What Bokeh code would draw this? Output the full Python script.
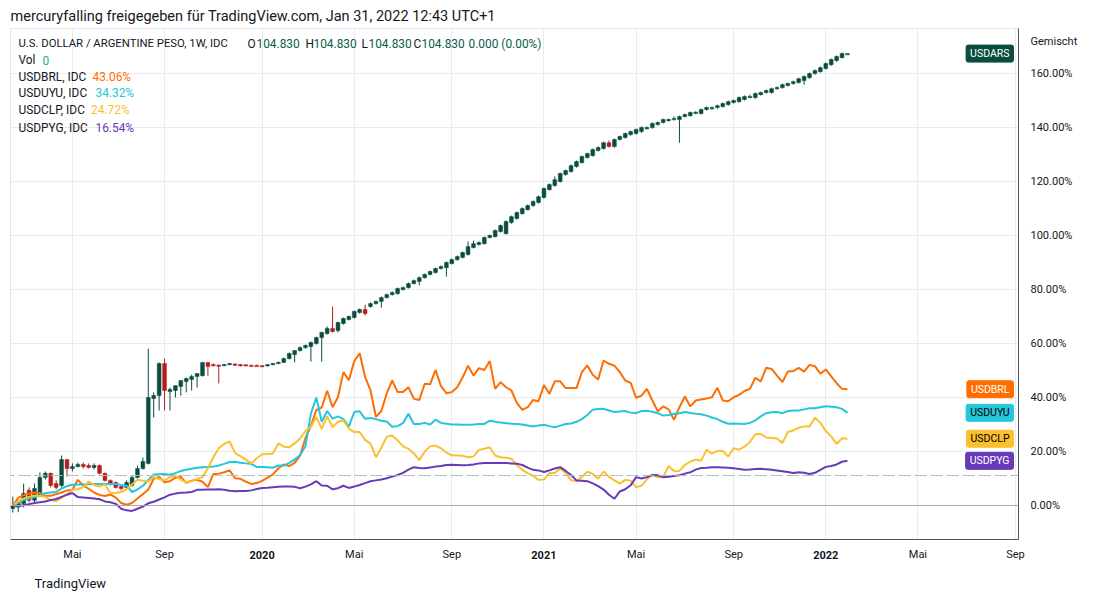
import numpy as np
import pandas as pd
from bokeh.plotting import figure
from bokeh.models import (Range1d, FixedTicker, PrintfTickFormatter, Span, Label, ColumnDataSource, Title,
                          DatetimeAxis)
from bokeh.embed import file_html
from bokeh.resources import INLINE

# ---------------- data (percent change vs. first weekly bar) ----------------
first_week = "2019-02-18"
weeks = pd.date_range(first_week, periods=155, freq="7D")

ars_open = [-1.1, -0.6, 0.7, 5.6, 1.9, 3.7, 10.4, 11.9, 8.1, 7.4,
 17.0, 13.7, 14.4, 15.2, 14.8, 14.1, 14.8, 11.9, 9.3, 8.5,
 7.0, 6.7, 7.4, 10.4, 13.7, 15.6, 39.6, 40.7, 52.6, 42.2,
 42.6, 44.1, 45.9, 46.7, 47.8, 48.1, 53.0, 52.2, 52.0, 51.9,
 52.2, 52.4, 52.2, 52.1, 51.9, 51.9, 51.8, 51.7, 52.2, 52.6,
 53.0, 54.4, 55.9, 57.4, 58.5, 58.9, 60.0, 62.2, 63.7, 65.6,
 64.8, 67.4, 68.9, 69.6, 71.5, 72.6, 73.7, 74.8, 75.6, 77.0,
 78.1, 78.5, 80.0, 80.7, 82.2, 83.0, 84.4, 85.6, 86.3, 87.8,
 88.1, 89.6, 91.1, 91.9, 93.0, 95.6, 96.7, 97.0, 99.3, 99.6,
 101.5, 100.7, 104.8, 106.3, 108.1, 109.6, 111.1, 112.2, 114.1, 117.0,
 118.5, 120.0, 122.6, 123.7, 125.6, 127.0, 128.9, 129.6, 131.5, 132.2,
 134.4, 133.0, 135.6, 136.3, 137.4, 137.8, 138.5, 139.6, 140.0, 141.1,
 141.9, 142.6, 143.2, 143.0, 144.1, 144.4, 145.5, 145.2, 146.7, 147.0,
 147.4, 147.8, 148.5, 149.3, 149.6, 150.4, 151.3, 151.1, 152.2, 153.0,
 153.0, 154.4, 154.8, 155.6, 156.3, 156.7, 157.4, 158.5, 160.0, 160.7,
 161.9, 163.3, 164.8, 165.9, 167.4]

ars_high = [3.3, 1.9, 8.1, 6.7, 8.1, 12.2, 12.6, 12.2, 9.3, 18.5,
 17.0, 15.6, 15.9, 15.9, 15.6, 15.6, 15.2, 12.2, 9.6, 8.9,
 7.4, 9.3, 11.1, 14.8, 17.8, 58.1, 41.9, 53.0, 54.4, 43.7,
 44.4, 46.3, 47.4, 48.5, 48.9, 53.0, 53.0, 52.6, 52.2, 52.4,
 52.8, 52.6, 52.4, 52.2, 52.2, 52.2, 52.0, 52.4, 52.8, 53.3,
 54.8, 56.7, 57.4, 58.9, 59.6, 60.7, 62.6, 64.4, 66.3, 73.7,
 68.1, 69.6, 70.4, 72.2, 73.0, 74.4, 75.2, 75.9, 77.4, 78.5,
 79.3, 80.7, 81.1, 82.6, 83.7, 84.8, 85.9, 87.0, 88.1, 88.9,
 90.4, 91.5, 92.6, 94.1, 97.8, 98.1, 97.8, 99.6, 100.4, 102.2,
 104.1, 105.6, 107.4, 108.9, 110.4, 111.5, 113.0, 114.8, 117.8, 119.3,
 121.9, 123.3, 124.4, 126.3, 127.8, 129.6, 130.7, 132.2, 133.0, 134.8,
 135.2, 135.9, 137.0, 138.1, 138.9, 139.6, 140.4, 140.4, 141.9, 142.2,
 143.3, 143.3, 144.1, 144.4, 145.2, 145.9, 146.0, 147.0, 147.8, 147.8,
 148.5, 149.3, 150.0, 150.4, 151.5, 151.9, 152.2, 153.0, 153.3, 154.1,
 154.8, 155.2, 156.3, 156.7, 157.4, 158.5, 159.3, 160.4, 161.5, 162.6,
 164.1, 165.6, 166.7, 167.8, 167.4]

ars_low = [-2.6, -2.5, -0.7, 1.1, 0.7, 3.0, 9.6, 6.7, 5.9, 6.7,
 10.7, 12.6, 14.1, 13.7, 13.7, 13.3, 11.5, 8.9, 7.4, 6.3,
 5.6, 5.9, 7.0, 10.0, 13.3, 15.2, 32.6, 35.2, 35.2, 35.2,
 40.0, 40.7, 41.9, 42.6, 43.7, 47.8, 48.1, 51.5, 45.2, 51.7,
 52.0, 51.7, 51.5, 51.7, 51.5, 51.7, 51.3, 51.5, 52.0, 52.4,
 52.8, 54.1, 53.0, 57.0, 58.1, 53.3, 59.6, 53.3, 63.3, 64.1,
 64.1, 67.0, 68.5, 69.3, 71.1, 70.4, 73.3, 74.4, 73.3, 76.7,
 77.8, 78.1, 79.6, 80.4, 81.9, 81.5, 84.1, 85.2, 85.9, 87.4,
 84.8, 89.3, 90.7, 91.5, 92.6, 95.2, 96.3, 96.7, 98.9, 99.3,
 101.1, 100.4, 104.4, 105.9, 107.8, 109.3, 110.7, 111.9, 113.7, 116.7,
 118.1, 119.6, 122.2, 123.3, 125.2, 126.7, 128.5, 129.3, 131.1, 131.9,
 132.6, 132.6, 135.2, 135.9, 137.0, 137.4, 138.1, 139.3, 139.6, 140.7,
 141.5, 142.2, 142.6, 134.4, 143.7, 144.1, 145.0, 144.8, 146.3, 146.7,
 147.0, 147.4, 148.1, 148.9, 149.3, 150.0, 151.1, 150.7, 151.9, 152.6,
 152.6, 154.1, 154.4, 155.2, 155.9, 156.3, 155.9, 158.1, 159.6, 160.4,
 161.5, 162.9, 164.4, 165.6, 167.4]

ars_close = [0.0, 1.2, 4.4, 1.9, 6.3, 10.4, 11.9, 7.4, 6.7, 17.0,
 13.7, 14.4, 15.2, 14.4, 14.1, 14.8, 11.9, 9.3, 8.1, 6.7,
 6.3, 8.5, 10.4, 13.7, 16.3, 40.0, 40.7, 52.6, 42.6, 43.0,
 44.4, 46.3, 47.0, 47.8, 48.9, 53.0, 51.5, 51.9, 51.9, 52.2,
 52.6, 52.2, 52.0, 52.0, 51.7, 51.8, 51.7, 52.2, 52.6, 53.0,
 54.4, 56.3, 57.4, 58.5, 59.3, 60.4, 62.2, 64.1, 65.6, 64.4,
 67.8, 69.3, 70.0, 71.9, 72.6, 71.1, 74.8, 75.6, 77.0, 78.1,
 78.9, 80.4, 80.7, 82.2, 83.3, 84.4, 85.6, 86.7, 87.8, 88.5,
 90.0, 91.1, 92.2, 93.7, 95.9, 97.0, 97.4, 99.3, 100.0, 101.9,
 103.7, 105.2, 107.0, 108.5, 110.0, 111.1, 112.6, 114.4, 117.4, 118.9,
 120.7, 123.0, 124.1, 125.9, 127.4, 129.3, 130.4, 131.9, 132.6, 134.4,
 133.0, 135.6, 136.7, 137.8, 138.5, 139.3, 140.0, 140.0, 141.5, 141.9,
 143.0, 143.0, 143.4, 144.1, 144.8, 145.6, 145.7, 146.7, 147.4, 147.4,
 148.1, 148.9, 149.6, 150.0, 151.1, 151.5, 151.5, 152.6, 153.0, 153.7,
 154.4, 154.8, 155.9, 156.3, 157.0, 158.1, 158.9, 160.0, 161.1, 162.2,
 163.7, 165.2, 166.3, 167.4, 167.4]

brl = [0.0, 2.8, 3.8, 4.4, 4.8, 4.6, 3.6, 3.6, 4.2, 4.8,
 5.6, 5.8, 9.5, 7.4, 6.2, 4.8, 3.9, 3.5, 4.1, 2.9,
 0.9, 0.3, 0.9, 2.6, 4.2, 5.9, 9.9, 10.6, 8.6, 9.0,
 10.3, 10.6, 8.4, 9.2, 9.5, 8.8, 6.8, 11.7, 11.8, 12.3,
 13.0, 10.1, 9.9, 8.8, 8.0, 8.3, 9.1, 10.3, 11.5, 13.8,
 15.2, 14.6, 15.8, 18.5, 25.0, 29.5, 35.3, 36.3, 42.5, 36.4,
 40.2, 49.4, 46.4, 53.5, 56.4, 47.6, 42.6, 32.8, 35.0, 41.5,
 46.3, 42.0, 42.0, 43.8, 39.5, 39.1, 45.1, 44.9, 50.2, 44.2,
 41.6, 42.0, 43.8, 47.5, 51.8, 48.1, 50.9, 50.2, 53.5, 43.2,
 45.7, 43.8, 42.6, 38.0, 35.4, 36.4, 39.1, 38.6, 44.6, 41.4,
 46.0, 46.0, 43.5, 43.5, 43.5, 49.4, 51.9, 48.4, 46.7, 53.7,
 52.5, 51.8, 49.4, 46.3, 45.4, 39.9, 40.7, 43.2, 38.9, 34.9,
 36.7, 35.6, 31.7, 36.4, 40.4, 36.7, 38.9, 39.3, 39.6, 40.1,
 43.6, 38.9, 38.6, 40.1, 41.0, 42.4, 43.2, 47.3, 46.0, 51.0,
 50.6, 48.1, 45.7, 49.6, 49.8, 51.0, 49.6, 52.1, 51.6, 48.8,
 50.4, 47.8, 45.3, 43.2, 43.06]

uyu = [0.0, 1.0, 2.0, 2.6, 3.1, 3.8, 4.6, 4.8, 5.0, 6.3,
 7.2, 7.7, 7.8, 7.8, 7.9, 8.0, 8.0, 8.0, 8.0, 8.0,
 7.6, 7.3, 5.0, 6.0, 7.3, 9.5, 11.5, 11.6, 11.7, 11.4,
 12.0, 12.8, 13.2, 13.6, 14.0, 14.2, 14.3, 14.4, 14.8, 15.4,
 16.1, 16.2, 15.8, 15.6, 15.4, 14.3, 14.3, 14.2, 14.0, 14.8,
 14.8, 15.8, 17.0, 18.6, 22.0, 34.0, 40.0, 31.0, 35.0, 32.2,
 33.0, 32.0, 29.2, 34.6, 34.9, 32.1, 32.4, 32.0, 31.4, 31.1,
 29.2, 29.4, 30.5, 34.0, 30.2, 30.2, 30.6, 30.0, 31.8, 30.6,
 30.3, 30.0, 30.0, 29.9, 29.9, 30.0, 30.2, 30.2, 31.4, 31.0,
 30.7, 30.5, 30.3, 30.2, 30.0, 29.6, 29.3, 29.6, 29.9, 29.4,
 29.0, 29.6, 30.2, 30.4, 31.0, 32.0, 33.5, 35.5, 35.7, 35.8,
 35.2, 34.6, 34.8, 35.0, 34.4, 34.2, 35.0, 35.1, 34.7, 34.2,
 33.3, 33.5, 33.9, 34.2, 34.6, 34.3, 34.0, 33.8, 33.3, 32.6,
 32.0, 31.0, 30.3, 30.4, 30.3, 30.2, 30.6, 31.5, 33.0, 34.2,
 34.5, 34.6, 34.2, 35.0, 35.2, 35.2, 35.6, 36.0, 36.0, 36.4,
 36.8, 36.6, 36.4, 35.8, 34.32]

clp = [0.0, 1.6, 2.6, 3.2, 3.7, 3.5, 3.2, 2.0, 1.6, 2.8,
 4.2, 5.8, 6.0, 6.8, 8.9, 7.6, 7.0, 7.8, 4.6, 4.6,
 5.0, 6.0, 7.8, 9.5, 9.2, 9.0, 10.5, 9.8, 9.3, 10.5,
 11.1, 9.5, 8.7, 9.0, 9.8, 10.5, 13.8, 17.9, 21.2, 22.8,
 23.7, 19.5, 18.3, 17.0, 15.6, 17.5, 19.0, 19.1, 19.3, 23.0,
 21.8, 21.6, 23.0, 24.8, 27.6, 29.2, 32.8, 28.4, 33.0, 29.1,
 31.0, 31.5, 28.5, 27.2, 27.2, 24.3, 22.9, 17.9, 21.4, 25.5,
 25.9, 24.1, 21.9, 21.0, 19.3, 16.8, 20.0, 21.9, 22.2, 21.2,
 19.6, 18.6, 18.5, 18.4, 17.9, 18.1, 20.6, 21.0, 21.6, 18.5,
 17.9, 17.7, 17.3, 14.9, 13.2, 12.0, 11.0, 9.5, 9.6, 12.0,
 12.0, 13.7, 12.0, 9.4, 9.0, 10.6, 12.5, 11.7, 9.9, 12.6,
 10.6, 9.3, 8.1, 9.5, 9.2, 6.8, 7.3, 9.7, 11.4, 10.5,
 10.5, 14.6, 12.7, 12.8, 15.0, 16.3, 17.0, 16.6, 20.6, 19.2,
 20.2, 20.2, 18.1, 21.2, 20.7, 21.8, 23.5, 26.4, 26.5, 25.2,
 25.0, 24.8, 23.2, 27.2, 27.8, 28.8, 29.3, 29.3, 32.5, 30.6,
 27.6, 25.6, 22.8, 24.9, 24.72]

pyg = [0.0, -0.3, 0.2, 0.5, 0.9, 1.2, 1.5, 2.0, 2.4, 3.2,
 4.0, 4.6, 3.1, 3.0, 2.8, 2.6, 2.3, 1.5, 1.2, 0.6,
 -1.2, -1.8, -2.0, -1.2, -0.4, 0.8, 1.4, 2.2, 3.0, 4.0,
 4.4, 4.7, 4.8, 5.0, 5.8, 5.8, 5.9, 5.9, 6.0, 5.8,
 5.5, 5.3, 5.4, 5.4, 5.6, 6.1, 6.5, 6.6, 6.8, 6.9,
 7.0, 7.0, 6.9, 6.4, 7.0, 7.8, 9.0, 7.4, 7.3, 6.0,
 6.4, 7.3, 6.5, 7.0, 7.6, 8.3, 9.0, 9.3, 9.6, 10.1,
 10.7, 11.3, 12.1, 13.3, 14.2, 13.9, 13.8, 14.1, 14.4, 14.6,
 15.0, 15.1, 15.0, 14.9, 15.0, 15.2, 15.6, 15.7, 15.7, 15.7,
 15.7, 15.7, 15.6, 15.5, 15.0, 14.0, 13.2, 13.0, 12.4, 13.0,
 13.7, 14.2, 12.8, 11.3, 9.3, 9.2, 9.0, 8.2, 7.2, 5.9,
 4.0, 2.5, 5.2, 6.0, 7.5, 10.5, 10.0, 10.5, 11.3, 11.2,
 10.5, 10.6, 10.9, 11.2, 11.8, 12.3, 13.3, 13.9, 14.0, 14.2,
 14.2, 14.1, 14.0, 13.8, 13.5, 13.2, 13.3, 13.5, 13.6, 13.4,
 13.2, 13.0, 12.7, 12.4, 12.0, 12.3, 12.1, 11.7, 12.1, 13.2,
 14.3, 14.6, 15.2, 16.2, 16.54]

ars_last_price = "104.830"
ref_level = 11.1

month_tick_dates = ["2019-05-06", "2019-09-02", "2020-05-04", "2020-09-07",
                    "2021-05-03", "2021-09-06", "2022-05-02", "2022-09-05"]
month_tick_labels = ["Mai", "Sep", "Mai", "Sep", "Mai", "Sep", "Mai", "Sep"]
year_tick_dates = ["2020-01-06", "2021-01-04", "2022-01-03"]
year_tick_labels = ["2020", "2021", "2022"]
y_ticks = [0, 20, 40, 60, 80, 100, 120, 140, 160]
scale_mode_label = "Gemischt"
scale_mode_pos = 171.85

# ---------------- styling ----------------
FONT = "Roboto"
TXT = "#131722"
UP = "#0a4d40"
DOWN = "#b71c1c"
C_BRL = "#ff6d00"
C_UYU = "#26c6da"
C_CLP = "#fbc02d"
C_PYG = "#673ab7"
GRID = "#e9ebf0"

W, H = 1092, 602
ML, MR, MT, MB = 10, 74, 28, 63
FRAME_BOTTOM_PAGE = H - MB
FRAME_LEFT_PAGE = ML

t0 = pd.Timestamp(first_week)
x_start = t0 - pd.Timedelta(days=2.97)
x_end = t0 + pd.Timedelta(days=1298.9)

p = figure(width=W, height=H, x_axis_type="datetime", y_axis_location="right",
           x_range=Range1d(x_start, x_end), y_range=Range1d(-12.6, 176.7),
           output_backend="svg", toolbar_location=None,
           min_border_left=ML, min_border_right=MR, min_border_top=MT, min_border_bottom=MB)
p.background_fill_color = "white"
p.border_fill_color = "white"
p.outline_line_color = "#e0e3eb"

# header title
p.title.text = "mercuryfalling freigegeben für TradingView.com, Jan 31, 2022 12:43 UTC+1"
p.title.align = "left"
p.title.text_font = FONT
p.title.text_font_size = "14.5px"
p.title.text_font_style = "normal"
p.title.text_color = TXT
p.title.standoff = 7
p.title.offset = 0

to_ms = lambda ds: [pd.Timestamp(d).value // 10**6 for d in ds]
month_ms = to_ms(month_tick_dates)
year_ms = to_ms(year_tick_dates)

# grid
p.xgrid.grid_line_color = GRID
p.xgrid.ticker = FixedTicker(ticks=sorted(month_ms + year_ms))
p.ygrid.grid_line_color = GRID
p.ygrid.ticker = FixedTicker(ticks=y_ticks)

# time axis: months (normal)
ax = p.xaxis[0]
ax.ticker = FixedTicker(ticks=month_ms)
ax.major_label_overrides = {t: lab for t, lab in zip(month_ms, month_tick_labels)}
ax.major_tick_line_color = None
ax.major_tick_out = 0
ax.major_tick_in = 0
ax.minor_tick_line_color = None
ax.axis_line_color = "#50535e"
ax.major_label_standoff = 8
ax.major_label_text_font = FONT
ax.major_label_text_font_size = "11px"
ax.major_label_text_color = TXT

# time axis: years (bold), drawn on the same row
ax_y = DatetimeAxis(ticker=FixedTicker(ticks=year_ms),
                    major_label_overrides={t: lab for t, lab in zip(year_ms, year_tick_labels)},
                    major_tick_line_color=None, major_tick_out=0, major_tick_in=0,
                    minor_tick_line_color=None, axis_line_color=None,
                    major_label_standoff=-13, major_label_text_font=FONT,
                    major_label_text_font_size="11px", major_label_text_font_style="bold",
                    major_label_text_color=TXT)
p.add_layout(ax_y, "below")

# footer
p.add_layout(Title(text="TradingView", align="left", offset=24, text_font=FONT, text_font_size="13px",
                   text_font_style="normal", text_color=TXT, standoff=20), "below")

# price axis
p.yaxis.ticker = FixedTicker(ticks=y_ticks + [scale_mode_pos])
p.yaxis.formatter = PrintfTickFormatter(format="%.2f%%")
p.yaxis.major_label_overrides = {scale_mode_pos: scale_mode_label}
p.yaxis.major_tick_line_color = None
p.yaxis.major_tick_out = 0
p.yaxis.major_tick_in = 0
p.yaxis.minor_tick_line_color = None
p.yaxis.axis_line_color = "#50535e"
p.yaxis.major_label_standoff = 12
p.yaxis.major_label_text_font = FONT
p.yaxis.major_label_text_font_size = "11px"
p.yaxis.major_label_text_color = TXT

# reference lines
p.add_layout(Span(location=0, dimension="width", line_color="#a5a8b0", line_width=1))
p.add_layout(Span(location=ref_level, dimension="width", line_color="#80cbc4", line_width=1, line_dash="4 4"))
p.add_layout(Span(location=ref_level, dimension="width", line_color="#f4a6a6", line_width=1,
                  line_dash="4 12", line_dash_offset=4))

# candles
o = np.array(ars_open); c = np.array(ars_close)
hi = np.array(ars_high); lo = np.array(ars_low)
up = c >= o
top = np.maximum(o, c)
bot = np.minimum(o, c)
thin = (top - bot) < 0.45
bot = np.where(thin, top - 0.45, bot)
colors = np.where(up, UP, DOWN)
src = ColumnDataSource(dict(x=weeks, top=top, bot=bot, hi=hi, lo=lo, col=colors))
bar_w = 0.7 * 7 * 24 * 3600 * 1000
p.segment(x0="x", y0="lo", x1="x", y1="hi", color="col", line_width=1, source=src)
p.vbar(x="x", width=bar_w, top="top", bottom="bot", fill_color="col", line_color="col", line_width=0.5, source=src)

# compare lines
for series, col in [(brl, C_BRL), (uyu, C_UYU), (clp, C_CLP), (pyg, C_PYG)]:
    p.line(weeks, series, line_color=col, line_width=2)

# ---------------- legend texts (inside the frame) ----------------
def add_text(px, py, text, color=TXT, size="11.9px", align="left"):
    p.add_layout(Label(x=px - FRAME_LEFT_PAGE, y=FRAME_BOTTOM_PAGE - py, x_units="screen", y_units="screen",
                       text=text, text_color=color, text_font=FONT, text_font_size=size,
                       text_align=align, text_baseline="middle"))

GREEN_TXT = "#0b5e4c"
add_text(18, 43, "U.S. DOLLAR / ARGENTINE PESO, 1W, IDC", size="11.3px")
for lx, letter, vx in [(247, "O", 256), (305, "H", 313), (361, "L", 368), (413, "C", 421)]:
    add_text(lx, 43, letter)
    add_text(vx, 43, ars_last_price, color=GREEN_TXT)
add_text(468, 43, "0.000 (0.00%)", color=GREEN_TXT)
add_text(18, 59.5, "Vol")
add_text(42, 59.5, "0", color="#22ab94")

legend_rows = [("USDBRL, IDC", brl, C_BRL, 76, 92), ("USDUYU, IDC", uyu, C_UYU, 92.5, 95),
               ("USDCLP, IDC", clp, C_CLP, 109.5, 90.5), ("USDPYG, IDC", pyg, C_PYG, 127, 95)]
for name, series, col, ry, vx in legend_rows:
    add_text(18, ry, name)
    add_text(vx, ry, f"{series[-1]:.2f}%", color=col)

# price tags at last values
tags = [("USDARS", ars_close[-1], UP, "white"), ("USDBRL", brl[-1], C_BRL, "white"),
        ("USDUYU", uyu[-1], C_UYU, "black"), ("USDCLP", clp[-1], C_CLP, "black"),
        ("USDPYG", pyg[-1], C_PYG, "white")]
for name, val, bg, fg in tags:
    p.add_layout(Label(x=1017 - FRAME_LEFT_PAGE - 4, y=val, x_units="screen", y_units="data",
                       text=name, text_color=fg, text_font=FONT, text_font_size="10.5px",
                       text_align="right", text_baseline="middle",
                       background_fill_color=bg, border_line_color=bg,
                       padding=dict(left=4, right=4, top=2, bottom=2), border_radius=2))

open("out.html", "w").write(file_html(p, INLINE))
